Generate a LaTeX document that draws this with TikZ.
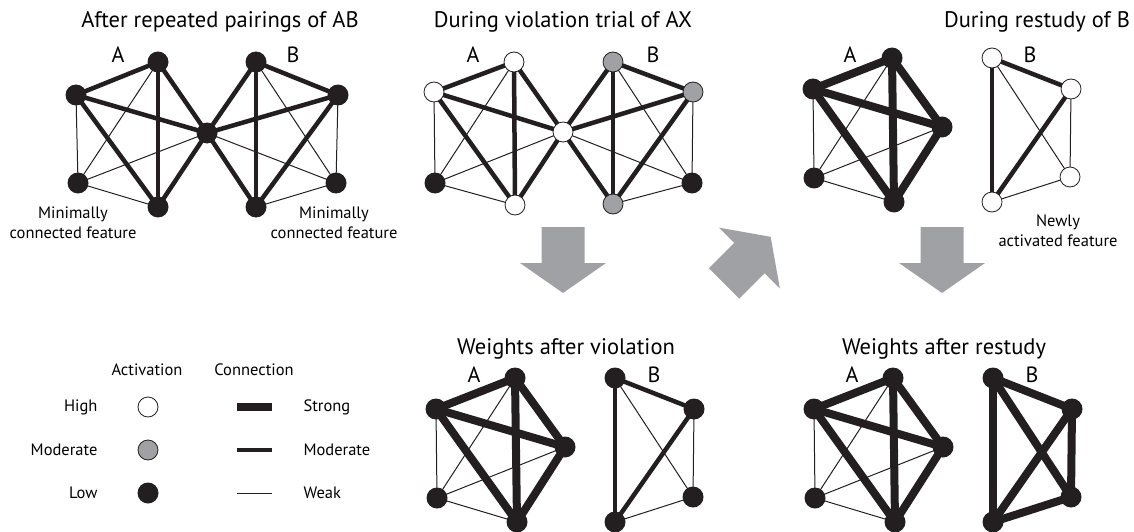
\documentclass[tikz,border=0pt]{standalone}
\usepackage{fontspec}
\setmainfont{PT Sans}
\usetikzlibrary{backgrounds}

\definecolor{featblack}{RGB}{35,31,32}
\definecolor{featgray}{RGB}{160,161,165}
\definecolor{arrowgray}{RGB}{160,161,165}

\tikzset{
  low/.style={circle,fill=featblack,minimum size=21pt,inner sep=0pt},
  high/.style={circle,draw=featblack,line width=0.8pt,fill=white,minimum size=20pt,inner sep=0pt},
  mid/.style={high,fill=featgray},
  link/.style={-,draw=featblack,shorten <=-4pt,shorten >=-4pt},
  weak/.style={link,line width=1pt},
  moderate/.style={link,line width=4.5pt},
  strong/.style={link,line width=8pt},
  title/.style={font=\fontsize{22.5}{27}\selectfont,anchor=base},
  letter/.style={font=\fontsize{22}{26}\selectfont},
  note/.style={font=\fontsize{16.5}{20}\selectfont,align=center},
  pics/bigarrow/.style={code={
    \fill[arrowgray] (-21.5,0) -- (21.5,0) -- (21.5,36) -- (43,36) -- (0,66)
      -- (-43,36) -- (-21.5,36) -- cycle;}}
}

\begin{document}
\begin{tikzpicture}[x=1pt,y=-1pt]
  \useasboundingbox (0,0) rectangle (1134,532);

  % titles
  \node[title] (t1) at (220,28) {After repeated pairings of AB};
  \node[title] (t2) at (563,28) {During violation trial of AX};
  \node[title] (t3) at (1037,28) {During restudy of B};
  \node[title] (t4) at (566,354) {Weights after violation};
  \node[title] (t5) at (944,354) {Weights after restudy};

  % after repeated pairings
  \begin{scope}[name prefix=pair-]
    \node[low] (a1) at (158,62) {};
    \node[low] (a2) at (76,95) {};
    \node[low] (a3) at (78,183) {};
    \node[low] (a4) at (158,207) {};
    \node[low] (x)  at (207,133) {};
    \node[low] (b1) at (256,62) {};
    \node[low] (b2) at (338,95) {};
    \node[low] (b3) at (336,183) {};
    \node[low] (b4) at (256,207) {};
    \node[letter] (la) at (118,55) {A};
    \node[letter] (lb) at (293,55) {B};
    \node[note] (na) at (73,223) {Minimally\\connected feature};
    \node[note] (nb) at (334,223) {Minimally\\connected feature};
    \begin{pgfonlayer}{background}
      \path (a2) edge[moderate] (a1) (a2) edge[moderate] (x)
            (a2) edge[moderate] (a4) (a1) edge[moderate] (a4)
            (a1) edge[moderate] (x)  (a4) edge[moderate] (x)
            (b1) edge[moderate] (b2) (b2) edge[moderate] (x)
            (b1) edge[moderate] (b4) (b1) edge[moderate] (x)
            (b4) edge[moderate] (x)  (b2) edge[moderate] (b4)
            (a3) edge[weak] (a2) (a3) edge[weak] (a1)
            (a3) edge[weak] (x)  (a3) edge[weak] (a4)
            (b3) edge[weak] (b2) (b3) edge[weak] (b1)
            (b3) edge[weak] (x)  (b3) edge[weak] (b4);
    \end{pgfonlayer}
  \end{scope}

  % during violation trial
  \begin{scope}[name prefix=viol-,shift={(356,0)}]
    \node[high] (a1) at (158,62) {};
    \node[high] (a2) at (78,92) {};
    \node[low]  (a3) at (79,183) {};
    \node[high] (a4) at (159,205) {};
    \node[high] (x)  at (207,132) {};
    \node[mid]  (b1) at (257,62) {};
    \node[mid]  (b2) at (337,92) {};
    \node[low]  (b3) at (336,183) {};
    \node[mid]  (b4) at (257,204) {};
    \node[letter] (la) at (117,55) {A};
    \node[letter] (lb) at (297,55) {B};
    \begin{pgfonlayer}{background}
      \path (a2) edge[moderate] (a1) (a2) edge[moderate] (x)
            (a2) edge[moderate] (a4) (a1) edge[moderate] (a4)
            (a1) edge[moderate] (x)  (a4) edge[moderate] (x)
            (b1) edge[moderate] (b2) (b2) edge[moderate] (x)
            (b1) edge[moderate] (b4) (b1) edge[moderate] (x)
            (b4) edge[moderate] (x)  (b2) edge[moderate] (b4)
            (a3) edge[weak] (a2) (a3) edge[weak] (a1)
            (a3) edge[weak] (x)  (a3) edge[weak] (a4)
            (b3) edge[weak] (b2) (b3) edge[weak] (b1)
            (b3) edge[weak] (x)  (b3) edge[weak] (b4);
    \end{pgfonlayer}
  \end{scope}

  % during restudy
  \begin{scope}[name prefix=rest-]
    \node[low] (a1) at (892,58) {};
    \node[low] (a2) at (813,89) {};
    \node[low] (a5) at (942,127) {};
    \node[low] (a3) at (814,178) {};
    \node[low] (a4) at (894,202) {};
    \node[high] (b1) at (992,58) {};
    \node[high] (b2) at (1071,89) {};
    \node[high] (b3) at (1070,177) {};
    \node[high] (b4) at (992,202) {};
    \node[letter] (la) at (850,55) {A};
    \node[letter] (lb) at (1030,55) {B};
    \node[note] (nb) at (1058,231) {Newly\\activated feature};
    \begin{pgfonlayer}{background}
      \path (a2) edge[strong] (a1) (a2) edge[strong] (a5)
            (a2) edge[strong] (a4) (a1) edge[strong] (a4)
            (a1) edge[strong] (a5) (a5) edge[strong] (a4)
            (a3) edge[weak] (a2) (a3) edge[weak] (a1)
            (a3) edge[weak] (a5) (a3) edge[weak] (a4)
            (b1) edge[moderate] (b2) (b1) edge[moderate] (b4)
            (b2) edge[moderate] (b4)
            (b1) edge[weak] (b3) (b2) edge[weak] (b3) (b3) edge[weak] (b4);
    \end{pgfonlayer}
  \end{scope}

  % weights after violation
  \begin{scope}[name prefix=wviol-,shift={(-377,320)}]
    \node[low] (a1) at (892,58) {};
    \node[low] (a2) at (813,89) {};
    \node[low] (a5) at (942,127) {};
    \node[low] (a3) at (814,178) {};
    \node[low] (a4) at (894,202) {};
    \node[low] (b1) at (992,58) {};
    \node[low] (b2) at (1071,89) {};
    \node[low] (b3) at (1070,177) {};
    \node[low] (b4) at (992,202) {};
    \node[letter] (la) at (851,55) {A};
    \node[letter] (lb) at (1031,55) {B};
    \begin{pgfonlayer}{background}
      \path (a2) edge[strong] (a1) (a2) edge[strong] (a5)
            (a2) edge[strong] (a4) (a1) edge[strong] (a4)
            (a1) edge[strong] (a5) (a5) edge[strong] (a4)
            (a3) edge[weak] (a2) (a3) edge[weak] (a1)
            (a3) edge[weak] (a5) (a3) edge[weak] (a4)
            (b1) edge[moderate] (b2) (b1) edge[moderate] (b4)
            (b2) edge[moderate] (b4)
            (b1) edge[weak] (b3) (b2) edge[weak] (b3) (b3) edge[weak] (b4);
    \end{pgfonlayer}
  \end{scope}

  % weights after restudy
  \begin{scope}[name prefix=wrest-,shift={(1,320)}]
    \node[low] (a1) at (892,58) {};
    \node[low] (a2) at (813,89) {};
    \node[low] (a5) at (942,127) {};
    \node[low] (a3) at (814,178) {};
    \node[low] (a4) at (894,202) {};
    \node[low] (b1) at (992,58) {};
    \node[low] (b2) at (1071,89) {};
    \node[low] (b3) at (1070,177) {};
    \node[low] (b4) at (992,202) {};
    \node[letter] (la) at (851,55) {A};
    \node[letter] (lb) at (1031,55) {B};
    \begin{pgfonlayer}{background}
      \path (a2) edge[strong] (a1) (a2) edge[strong] (a5)
            (a2) edge[strong] (a4) (a1) edge[strong] (a4)
            (a1) edge[strong] (a5) (a5) edge[strong] (a4)
            (a3) edge[weak] (a2) (a3) edge[weak] (a1)
            (a3) edge[weak] (a5) (a3) edge[weak] (a4)
            (b1) edge[strong] (b2) (b1) edge[strong] (b4)
            (b2) edge[strong] (b4) (b1) edge[strong] (b3)
            (b2) edge[strong] (b3) (b3) edge[strong] (b4);
    \end{pgfonlayer}
  \end{scope}

  % big arrows
  \pic at (563,227) {bigarrow};
  \pic[rotate=135] at (724,283.5) {bigarrow};
  \pic at (942,227) {bigarrow};

  % legend
  \begin{scope}[name prefix=key-,every node/.append style={font=\fontsize{16.5}{20}\selectfont}]
    \node (act) at (147,370) {Activation};
    \node (con) at (254,370) {Connection};
    \node[anchor=east] (thigh) at (101,407) {High};
    \node[anchor=east] (tmid) at (101,450) {Moderate};
    \node[anchor=east] (tlow) at (101,493) {Low};
    \node[high] (high) at (148,407) {};
    \node[mid]  (mid)  at (148,450) {};
    \node[low]  (low)  at (148,493) {};
    \coordinate (s0) at (237,407); \coordinate (s1) at (272,407);
    \coordinate (m0) at (237,450); \coordinate (m1) at (272,450);
    \coordinate (w0) at (237,493); \coordinate (w1) at (272,493);
    \draw[featblack,line width=8pt] (s0) -- (s1);
    \draw[featblack,line width=4.5pt] (m0) -- (m1);
    \draw[featblack,line width=1pt] (w0) -- (w1);
    \node[anchor=west] (tstrong) at (300,407) {Strong};
    \node[anchor=west] (tmod) at (300,450) {Moderate};
    \node[anchor=west] (tweak) at (300,493) {Weak};
  \end{scope}
\end{tikzpicture}
\end{document}
